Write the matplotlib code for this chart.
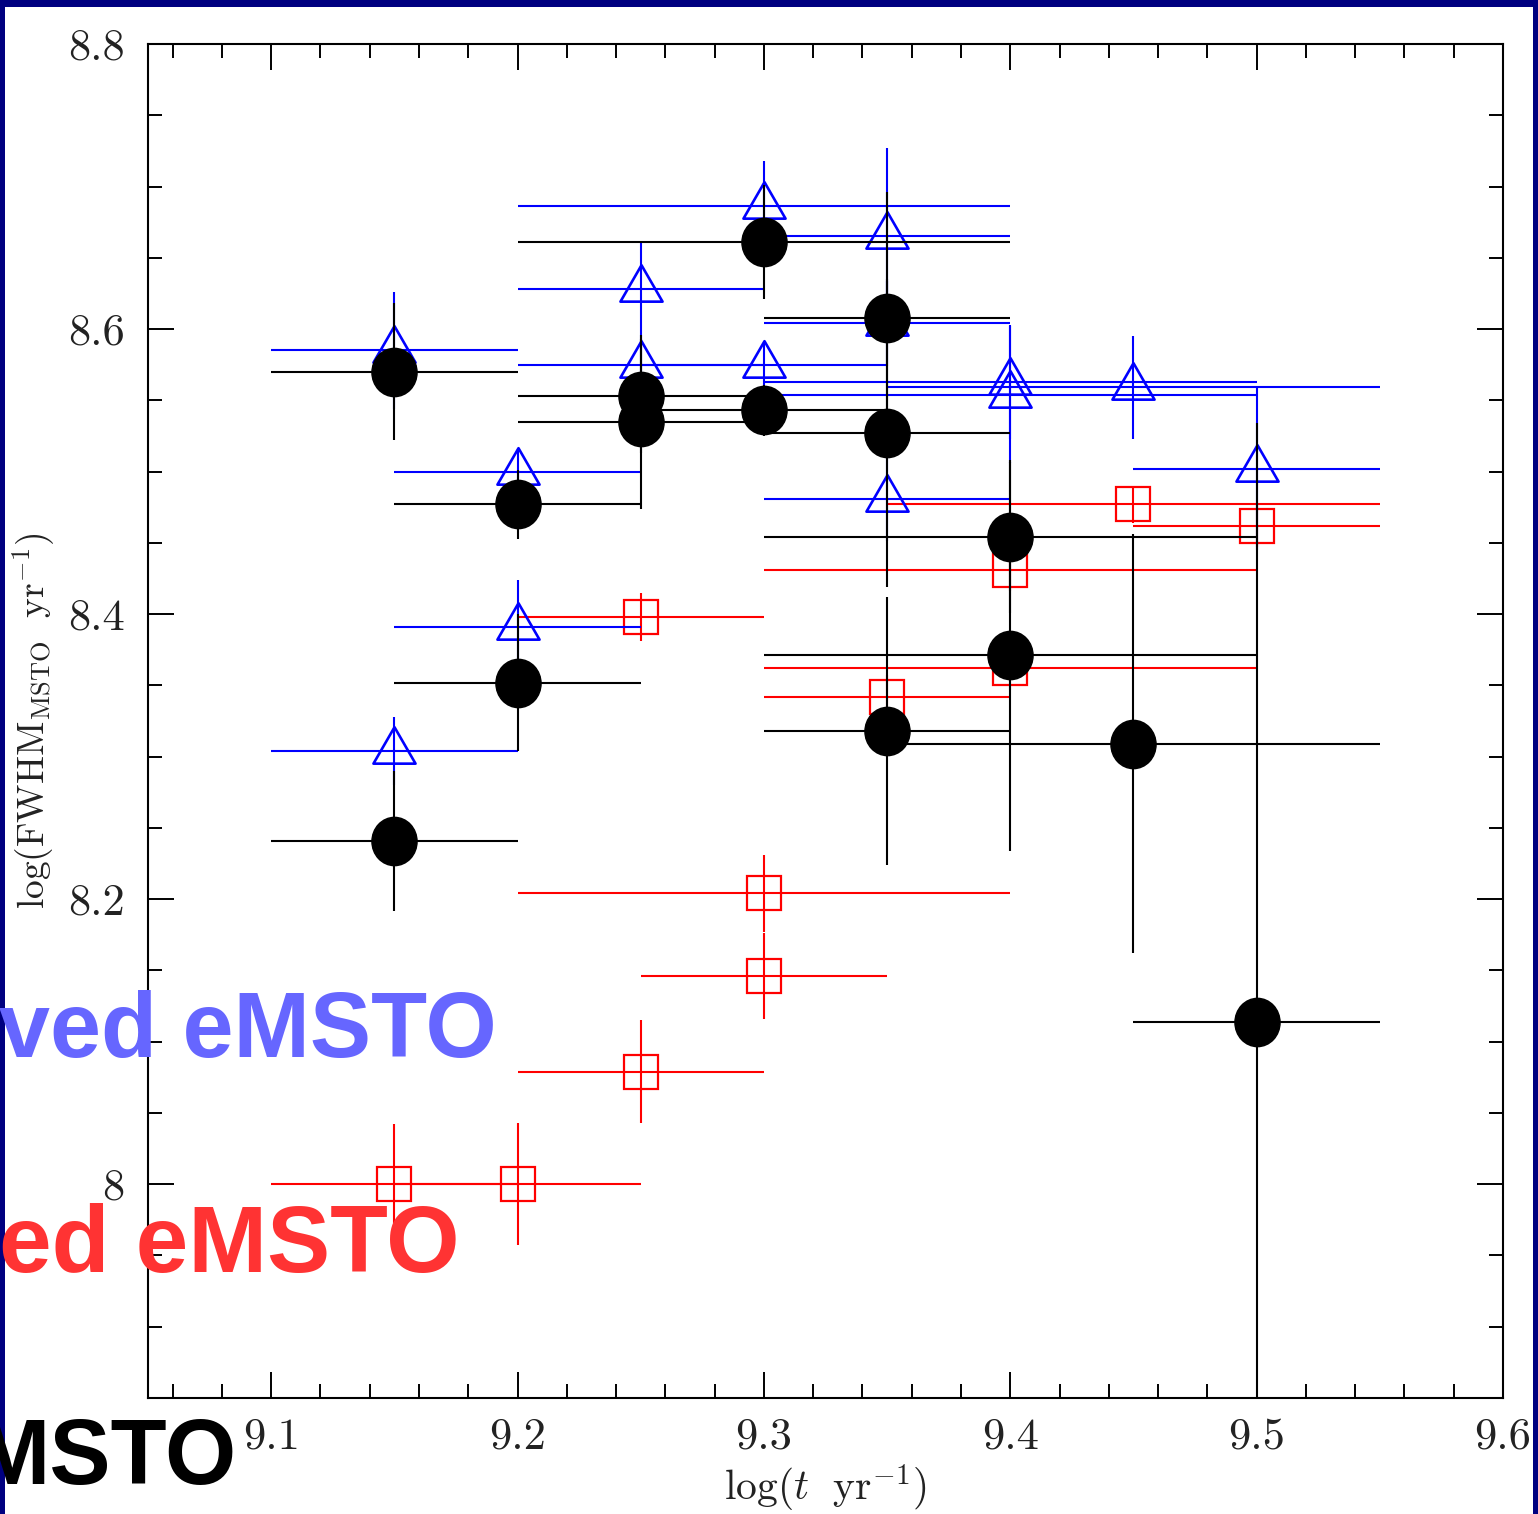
import matplotlib
matplotlib.use('Agg')
import matplotlib.pyplot as plt
from matplotlib.patches import Rectangle
from matplotlib.path import Path
from matplotlib.markers import MarkerStyle
from matplotlib.transforms import Affine2D
from matplotlib.ticker import MultipleLocator, FuncFormatter

plt.rcParams['mathtext.fontset'] = 'cm'
plt.rcParams['axes.formatter.use_mathtext'] = True

# black filled circles
blk_x = [9.15, 9.20, 9.25, 9.25, 9.30, 9.30, 9.35, 9.35, 9.35, 9.40, 9.40, 9.45, 9.50, 9.15, 9.20]
blk_y = [8.570, 8.477, 8.553, 8.535, 8.543, 8.661, 8.608, 8.527, 8.318, 8.454, 8.371, 8.309, 8.114, 8.241, 8.352]
blk_xerr = [0.05, 0.05, 0.05, 0.05, 0.05, 0.10, 0.05, 0.05, 0.05, 0.10, 0.10, 0.10, 0.05, 0.05, 0.05]
blk_yerr = [0.048, 0.024, 0.040, 0.061, 0.018, 0.040, 0.088, 0.108, 0.094, 0.053, 0.137, 0.147, 0.42, 0.049, 0.048]

# blue open triangles
blu_x = [9.15, 9.20, 9.25, 9.25, 9.30, 9.30, 9.35, 9.35, 9.40, 9.40, 9.45, 9.50, 9.35, 9.20, 9.15]
blu_y = [8.585, 8.500, 8.628, 8.575, 8.575, 8.686, 8.665, 8.604, 8.563, 8.554, 8.559, 8.502, 8.481, 8.391, 8.304]
blu_xerr = [0.05, 0.05, 0.05, 0.05, 0.05, 0.10, 0.05, 0.05, 0.10, 0.10, 0.10, 0.05, 0.05, 0.05, 0.05]
blu_yerr = [0.041, 0.016, 0.033, 0.020, 0.015, 0.032, 0.062, 0.030, 0.040, 0.048, 0.036, 0.057, 0.030, 0.033, 0.024]

# red open squares
red_x = [9.15, 9.20, 9.25, 9.30, 9.30, 9.25, 9.35, 9.40, 9.40, 9.45, 9.50]
red_y = [8.000, 8.000, 8.079, 8.146, 8.204, 8.398, 8.342, 8.362, 8.431, 8.477, 8.462]
red_xerr = [0.05, 0.05, 0.05, 0.05, 0.10, 0.05, 0.05, 0.10, 0.10, 0.10, 0.05]
red_yerr = [0.042, 0.043, 0.036, 0.030, 0.027, 0.017, 0.015, 0.015, 0.015, 0.013, 0.015]

W, H = 1538, 1514
fig = plt.figure(figsize=(W / 100, H / 100), dpi=100, facecolor='#000080')
# white slide picture on the navy background
fig.patches.append(Rectangle((5 / W, 0), (1533 - 5) / W, 1 - 7 / H,
                             transform=fig.transFigure, facecolor='white',
                             edgecolor='none', zorder=-10))

ax = fig.add_axes([148 / W, 1 - 1398 / H, (1503 - 148) / W, (1398 - 44) / H])
ax.set_facecolor('white')

# triangle centred on its centroid, circle a bit taller than wide
tri = MarkerStyle(Path([(0, 1), (-0.866, -0.5), (0.866, -0.5), (0, 1)],
                       [Path.MOVETO, Path.LINETO, Path.LINETO, Path.CLOSEPOLY]))
oval = MarkerStyle('o', transform=Affine2D().scale(1.0, 1.07))

lw = 1.5
ax.errorbar(red_x, red_y, xerr=red_xerr, yerr=red_yerr, fmt='none',
            ecolor='#ff0000', elinewidth=lw, capsize=0, zorder=2)
ax.plot(red_x, red_y, ls='none', marker='s', ms=25, mfc='none',
        mec='#ff0000', mew=1.6, zorder=3)

ax.errorbar(blu_x, blu_y, xerr=blu_xerr, yerr=blu_yerr, fmt='none',
            ecolor='#0000ff', elinewidth=lw, capsize=0, zorder=4)
ax.plot(blu_x, blu_y, ls='none', marker=tri, ms=35, mfc='none',
        mec='#0000ff', mew=1.9, zorder=5)

ax.errorbar(blk_x, blk_y, xerr=blk_xerr, yerr=blk_yerr, fmt='none',
            ecolor='black', elinewidth=lw, capsize=0, zorder=6)
ax.plot(blk_x, blk_y, ls='none', marker=oval, ms=32.5, mfc='black',
        mec='black', mew=1, zorder=7)

ax.set_xlim(9.05, 9.6)
ax.set_ylim(7.85, 8.8)
ax.xaxis.set_major_locator(MultipleLocator(0.1))
ax.xaxis.set_minor_locator(MultipleLocator(0.02))
ax.yaxis.set_major_locator(MultipleLocator(0.2))
ax.yaxis.set_minor_locator(MultipleLocator(0.05))
fmt = FuncFormatter(lambda v, p: '%g' % round(v, 2))
ax.xaxis.set_major_formatter(fmt)
ax.yaxis.set_major_formatter(fmt)

ax.tick_params(which='both', direction='in', top=True, right=True,
               width=1.4, colors='black')
ax.tick_params(which='major', length=18.5, labelsize=32)
ax.tick_params(which='minor', length=10)
ax.tick_params(axis='x', which='major', pad=14)
ax.tick_params(axis='y', which='major', pad=17)
for lab in ax.get_xticklabels() + ax.get_yticklabels():
    lab.set_fontfamily('cmr10')
    lab.set_color('#222222')
for s in ax.spines.values():
    s.set_linewidth(1.5)

ax.set_xlabel(r'$\log(t\ \ {\rm yr}^{-1})$', fontsize=30, color='#222222',
              labelpad=4)
ax.set_ylabel(r'$\log({\rm FWHM}_{\rm MSTO}\ \ {\rm yr}^{-1})$', fontsize=27,
              color='#222222', labelpad=8)

# slide text lying over the picture
fig.text(497 / W, 1 - 1057 / H, 'ved eMSTO', color='#6666ff', fontsize=66,
         fontweight='bold', family='Liberation Sans', ha='right', va='baseline')
fig.text(460 / W, 1 - 1272 / H, 'ed eMSTO', color='#ff3333', fontsize=68,
         fontweight='bold', family='Liberation Sans', ha='right', va='baseline')
fig.text(237 / W, 1 - 1484 / H, 'MSTO', color='black', fontsize=66,
         fontweight='bold', family='Liberation Sans', ha='right', va='baseline')

fig.savefig('out.png', dpi=100, facecolor=fig.get_facecolor())
